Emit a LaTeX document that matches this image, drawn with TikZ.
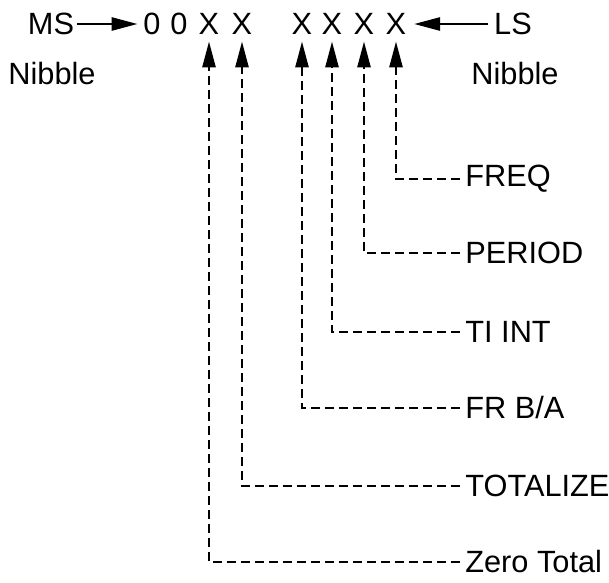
\documentclass[tikz,border=0pt]{standalone}
\usepackage{fontspec}
\setmainfont{Liberation Sans}
\usepackage{tikz}
\usetikzlibrary{arrows.meta}

\begin{document}
\begin{tikzpicture}[x=0.02cm, y=0.02cm]
\useasboundingbox (0,0) rectangle (609,-582);

% Styles
\tikzset{
  txt/.style={font=\fontsize{17.5}{20}\selectfont, inner sep=0pt},
  lbl/.style={txt, anchor=west},
  ptr/.style={-{Triangle[length=5.2mm, width=2.6mm]}, line width=1.5pt},
  link/.style={-{Triangle[length=5.2mm, width=2.6mm]}, line width=1.5pt, dash pattern=on 1.7mm off 1.1mm, shorten <=1.1mm, shorten >=1.3mm},
}

% Nibble digits
\node[txt] (ms3) at (152,-24) {0};
\node[txt] (ms2) at (179,-24) {0};
\node[txt] (ms1) at (209,-24) {X};
\node[txt] (ms0) at (242,-24) {X};
\node[txt] (ls3) at (302,-24) {X};
\node[txt] (ls2) at (332,-24) {X};
\node[txt] (ls1) at (364,-24) {X};
\node[txt] (ls0) at (396,-24) {X};

\node[txt] (ms) at (51,-24) {MS};
\node[txt] (ls) at (513,-24) {LS};
\node[txt] (msnib) at (52,-74) {Nibble};
\node[txt] (lsnib) at (515,-74) {Nibble};

\draw[ptr, shorten <=0.6mm, shorten >=1.1mm] (ms.east) -- (ms3.west);
\draw[ptr, shorten <=1.1mm, shorten >=1.5mm] (ls.west) -- (ls0.east);

% Function labels
\node[lbl] (freq)   at (465,-179) {FREQ};
\node[lbl] (period) at (465,-253) {PERIOD};
\node[lbl] (tiint)  at (465,-332) {TI INT};
\node[lbl] (frba)   at (465,-408) {FR B/A};
\node[lbl] (total)  at (465,-486) {TOTALIZE};
\node[lbl] (zero)   at (465,-562) {Zero Total};

\draw[link] (freq.west)   -| (ls0.south);
\draw[link] (period.west) -| (ls1.south);
\draw[link] (tiint.west)  -| (ls2.south);
\draw[link] (frba.west)   -| (ls3.south);
\draw[link] (total.west)  -| (ms0.south);
\draw[link] (zero.west)   -| (ms1.south);

\end{tikzpicture}
\end{document}
